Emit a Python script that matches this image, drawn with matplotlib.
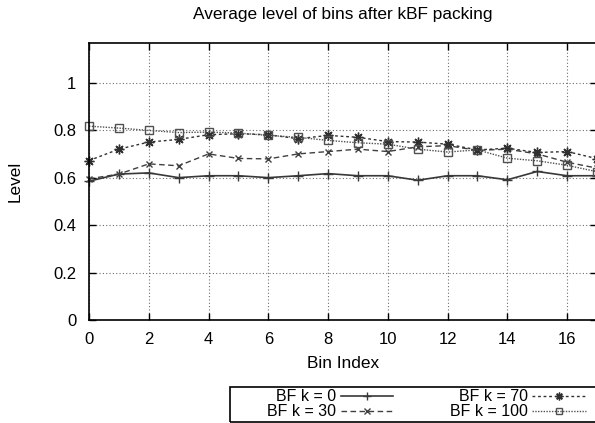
import matplotlib
matplotlib.use("Agg")
import matplotlib.pyplot as plt
from matplotlib.lines import Line2D
from matplotlib.patches import Rectangle

plt.rcParams['font.family'] = ['Liberation Sans', 'DejaVu Sans']

# data
bins = list(range(18))
labels = ['BF k = 0', 'BF k = 30', 'BF k = 70', 'BF k = 100']
k0 = [0.585, 0.615, 0.62, 0.60, 0.608, 0.608, 0.60, 0.608, 0.617, 0.608,
      0.608, 0.589, 0.608, 0.608, 0.591, 0.626, 0.608, 0.608]
k30 = [0.595, 0.615, 0.658, 0.65, 0.70, 0.681, 0.679, 0.70, 0.71, 0.72,
       0.71, 0.73, 0.735, 0.715, 0.72, 0.70, 0.665, 0.64]
k70 = [0.672, 0.72, 0.75, 0.761, 0.781, 0.785, 0.781, 0.764, 0.778, 0.77,
       0.752, 0.75, 0.741, 0.717, 0.724, 0.706, 0.71, 0.68]
k100 = [0.817, 0.809, 0.799, 0.79, 0.792, 0.788, 0.778, 0.77, 0.757, 0.747,
        0.741, 0.72, 0.708, 0.717, 0.682, 0.671, 0.652, 0.625]
series = [k0, k30, k70, k100]

# line styles mimicking gnuplot monochrome output
styles = [
    dict(color='#383838', ls='-', marker='+', ms=7, lw=1.2),
    dict(color='#404040', ls=(0, (4, 2.5)), marker='x', ms=5, lw=1.0),
    dict(color='#303030', ls=(0, (2, 2)), marker=(8, 2, 0), ms=7, lw=1.0),
    dict(color='#505050', ls=(0, (1, 1)), marker='s', ms=6, lw=1.0,
         mfc='none'),
]

W, H = 595, 423
fig = plt.figure(figsize=(W / 100, H / 100), dpi=100)
ax = fig.add_axes([89 / W, 1 - 320 / H, 508 / W, 277 / H])

for vals, st in zip(series, styles):
    ax.plot(bins, vals, clip_on=False, **st)

ax.set_xlim(0, 17)
ax.set_ylim(0, 1.1675)
ax.set_xticks(range(0, 17, 2))
ax.set_yticks([0, 0.2, 0.4, 0.6, 0.8, 1.0])
ax.set_yticklabels(['0', '0.2', '0.4', '0.6', '0.8', '1'])
ax.tick_params(direction='in', length=5, width=1, top=True, right=True,
               labelsize=12, pad=9)
ax.grid(True, ls=(0, (1, 2)), color='#707070', lw=0.8)
for s in ax.spines.values():
    s.set_linewidth(1.2)

ax.set_title('Average level of bins after kBF packing', fontsize=12.4, pad=17)
ax.set_xlabel('Bin Index', fontsize=12.4, labelpad=6)
ax.set_ylabel('Level', fontsize=12.4, labelpad=22)

# gnuplot-style legend: right-aligned text, then sample line
fig.patches.append(Rectangle((230 / W, 1 - 422 / H), 380 / W, 35 / H,
                             transform=fig.transFigure, fill=False,
                             ec='black', lw=1.2))
rows = [1 - 396 / H, 1 - 411 / H]
cols = [(336, 341, 393), (528, 532, 586)]
for i, (lab, st) in enumerate(zip(labels, styles)):
    c = cols[i // 2]
    y = rows[i % 2]
    fig.text(c[0] / W, y, lab, ha='right', va='center', fontsize=11.5)
    line_st = {k: v for k, v in st.items() if k not in ('marker', 'ms', 'mfc')}
    fig.add_artist(Line2D([c[1] / W, c[2] / W], [y, y],
                          transform=fig.transFigure, **line_st))
    fig.add_artist(Line2D([(c[1] + c[2]) / 2 / W], [y], transform=fig.transFigure,
                          color=st['color'], marker=st['marker'],
                          ms=st['ms'] * 0.8, mfc=st.get('mfc', st['color']),
                          ls='none'))

fig.savefig('out.png', dpi=100)
